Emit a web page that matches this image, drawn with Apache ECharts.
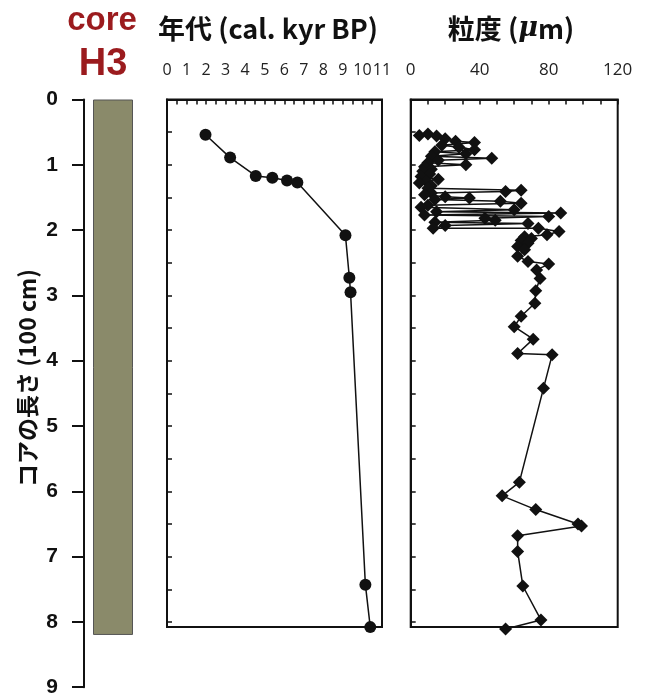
<!DOCTYPE html>
<html>
<head>
<meta charset="utf-8">
<script src="https://cdn.jsdelivr.net/npm/echarts@6/dist/echarts.min.js"></script>
<style>
html,body{margin:0;padding:0;background:#fff;}
#c{width:647px;height:700px;}
</style>
</head>
<body>
<div id="c"></div>
<script>
// ---- data ----
const coreName = 'H3';
const coreLength = [8.2];            // core length (100 cm)
const depthTicks = [0,1,2,3,4,5,6,7,8,9];

// age–depth model
const ageDepth = [0.54, 0.89, 1.17, 1.20, 1.24, 1.27, 2.08, 2.73, 2.95, 7.43, 8.08];
const ageKyr   = [1.97, 3.23, 4.54, 5.39, 6.14, 6.67, 9.13, 9.33, 9.39, 10.15, 10.4];

// grain size
const grainDepth = [0.55,0.53,0.56,0.60,0.64,0.66,0.70,0.73,0.77,0.80,0.83,0.87,0.90,0.93,0.97,1.00,1.03,1.07,1.10,1.14,1.18,1.22,1.25,1.28,1.32,1.36,1.39,1.41,1.43,1.46,1.49,1.51,1.53,1.56,1.59,1.62,1.65,1.69,1.72,1.74,1.77,1.79,1.82,1.85,1.88,1.90,1.93,1.97,1.97,2.02,2.07,2.10,2.13,2.16,2.20,2.25,2.30,2.40,2.48,2.52,2.61,2.74,2.93,3.12,3.32,3.48,3.67,3.89,3.91,4.42,5.86,6.07,6.28,6.50,6.53,6.68,6.92,7.45,7.97,8.11];
const grainUm    = [5,10,15,20,26,37,18,28,37,14,32,12,47,16,10,32,8,12,7,11,6,16,9,5,12,10,64,55,12,8,20,34,14,52,64,10,6,60,15,87,8,80,43,49,14,68,20,13,74,86,79,66,70,64,68,62,66,62,68,80,73,75,72.5,72,64,60,71,62,82,77,63,53,72.5,97,99,62,62,65,75.5,55];

const ageTicks = [0,1,2,3,4,5,6,7,8,9,10,11];
const grainTicks = [0,40,80,120];

// ---- chart ----
const chart = echarts.init(document.getElementById('c'));
const black = '#111';
const PX = 65.3;          // px per depth unit
const TOP = 99.5;
const PANEL_MAX = 8.08;

const agePairs = ageKyr.map((a,i)=>[a, ageDepth[i]]);
const grainPairs = grainUm.map((g,i)=>[g, grainDepth[i]]);

const panelY = (idx) => ({
  gridIndex: idx, type:'value', inverse:true, min:0, max:PANEL_MAX, interval:0.5,
  axisLine:{show:true, lineStyle:{color:black, width:2}},
  axisTick:{show:true, inside:true, length:5, lineStyle:{color:black, width:1.5}},
  axisLabel:{show:false}, splitLine:{show:false}
});

chart.setOption({
  animation:false,
  backgroundColor:'#fff',
  grid:[
    {left:84, top:TOP, width:58, height:9*PX},
    {left:167, top:TOP, width:215, height:PANEL_MAX*PX, show:true, borderColor:black, borderWidth:2},
    {left:410.7, top:TOP, width:207, height:PANEL_MAX*PX, show:true, borderColor:black, borderWidth:2}
  ],
  xAxis:[
    {gridIndex:0, type:'category', data:[coreName], show:false},
    {gridIndex:1, type:'value', position:'top', min:0, max:11, interval:0.5,
     axisLine:{show:true, lineStyle:{color:black, width:2}},
     axisTick:{show:true, inside:true, length:5, lineStyle:{color:black, width:1.5}},
     axisLabel:{margin:21, color:'#222', fontFamily:'Open Sans', fontSize:16,
       formatter:(v)=> ageTicks.indexOf(v) >= 0 ? String(v) : ''},
     splitLine:{show:false}},
    {gridIndex:2, type:'value', position:'top', min:0, max:120, interval:10,
     axisLine:{show:true, lineStyle:{color:black, width:2}},
     axisTick:{show:true, inside:true, length:5, lineStyle:{color:black, width:1.5}},
     axisLabel:{margin:21, color:'#222', fontFamily:'Open Sans', fontSize:17,
       formatter:(v)=> grainTicks.indexOf(v) >= 0 ? String(v) : ''},
     splitLine:{show:false}}
  ],
  yAxis:[
    {gridIndex:0, type:'value', inverse:true, min:0, max:9, interval:1, position:'left',
     axisLine:{show:true, lineStyle:{color:black, width:2}},
     axisTick:{show:true, inside:false, length:12, lineStyle:{color:black, width:2}},
     axisLabel:{margin:26, color:black, fontFamily:'Liberation Sans', fontWeight:'bold', fontSize:21,
       formatter:(v)=> depthTicks.indexOf(v) >= 0 ? String(v) : ''},
     splitLine:{show:false}},
    panelY(1),
    panelY(2)
  ],
  graphic:[
    {type:'text', x:102, y:21, style:{text:'core', font:'bold 33px "Liberation Sans"', fill:'#9b1b1e', align:'center', verticalAlign:'middle'}},
    {type:'text', x:103, y:65, style:{text:'H3', font:'bold 38px "Liberation Sans"', fill:'#9b1b1e', align:'center', verticalAlign:'middle'}},
    {type:'text', x:268, y:29, style:{text:'年代 (cal. kyr BP)', font:'bold 27px "Noto Sans CJK JP"', fill:'#111', align:'center', verticalAlign:'middle'}},
    {type:'text', x:511, y:29, style:{
      text:'{a|粒度 (}{b|μ}{a|m)}', align:'center', verticalAlign:'middle',
      rich:{
        a:{font:'bold 27px "Noto Sans CJK JP"', fill:'#111'},
        b:{font:'italic bold 27px "DejaVu Serif"', fill:'#111'}
      }}},
    {type:'text', x:27, y:378, rotation:Math.PI/2, style:{text:'コアの長さ (100 cm)', font:'bold 23px "Noto Sans CJK JP"', fill:'#111', align:'center', verticalAlign:'middle'}}
  ],
  series:[
    {type:'bar', xAxisIndex:0, yAxisIndex:0, data:coreLength, barWidth:40,
     itemStyle:{color:'#8a8a6a', borderColor:'#555', borderWidth:1}},
    {type:'line', xAxisIndex:1, yAxisIndex:1, data:agePairs, clip:false,
     symbol:'circle', symbolSize:12, itemStyle:{color:black},
     lineStyle:{color:black, width:1.5}},
    {type:'line', xAxisIndex:2, yAxisIndex:2, data:grainPairs, clip:false,
     symbol:'diamond', symbolSize:13, itemStyle:{color:black},
     lineStyle:{color:black, width:1.5}}
  ]
});
</script>
</body>
</html>
